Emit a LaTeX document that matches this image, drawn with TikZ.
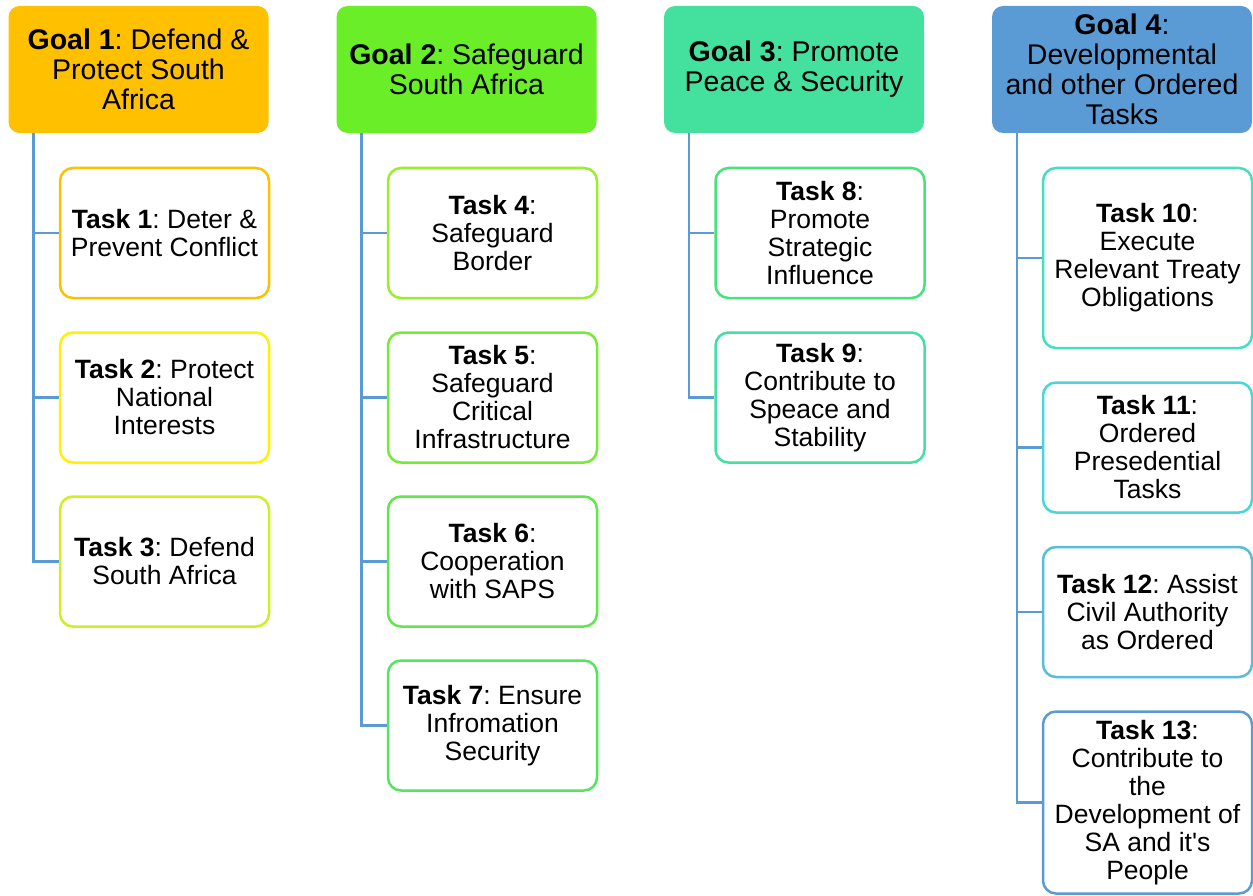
\documentclass[tikz,border=0pt]{standalone}
\usepackage{fontspec}
\setmainfont{Liberation Sans}
\frenchspacing
\begin{document}
\begin{tikzpicture}[x=1pt,y=-1pt,
  goalbox/.style={rectangle, rounded corners=11pt, minimum width=260pt, minimum height=127pt,
    inner sep=2pt, align=center, font=\fontsize{28.5}{30}\selectfont},
  taskbox/.style={rectangle, rounded corners=13pt, draw=#1, line width=2.5pt, fill=white,
    minimum width=209pt, minimum height=130pt, inner sep=2pt, align=center,
    font=\fontsize{26.5}{28}\selectfont},
  tallbox/.style={taskbox=#1, minimum height=180pt},
  link/.style={draw=linkblue, line width=2.6pt}
]
\definecolor{linkblue}{HTML}{5B9BD5}
\definecolor{gone}{HTML}{FFC000}
\definecolor{gtwo}{HTML}{6AEE27}
\definecolor{gthree}{HTML}{44E09E}
\definecolor{gfour}{HTML}{5B9BD5}
\definecolor{cA}{HTML}{FFC000}
\definecolor{cB}{HTML}{FFF200}
\definecolor{cC}{HTML}{CCF020}
\definecolor{cD}{HTML}{9BEE2A}
\definecolor{cE}{HTML}{72EC35}
\definecolor{cF}{HTML}{5EE84A}
\definecolor{cG}{HTML}{52E65C}
\definecolor{cH}{HTML}{46E27A}
\definecolor{cI}{HTML}{44E0A2}
\definecolor{cJ}{HTML}{46DEC3}
\definecolor{cK}{HTML}{4BD5D8}
\definecolor{cL}{HTML}{58BCDA}
\definecolor{cM}{HTML}{5B9BD5}

\useasboundingbox (0,0) rectangle (1253,896);

% goals
\node[goalbox, fill=gone]   (g1) at (138.5,69.5)  {\textbf{Goal 1}: Defend \&\\Protect South\\Africa};
\node[goalbox, fill=gtwo]   (g2) at (466.5,69.5)  {\textbf{Goal 2}: Safeguard\\South Africa};
\node[goalbox, fill=gthree] (g3) at (794,69.5)    {\textbf{Goal 3}: Promote\\Peace \& Security};
\node[goalbox, fill=gfour]  (g4) at (1122,69.5)   {\textbf{Goal 4}:\\Developmental\\and other Ordered\\Tasks};

% tasks of goal 1
\node[taskbox=cA] (t1) at (164.5,233) {\textbf{Task 1}: Deter \&\\Prevent Conflict};
\node[taskbox=cB] (t2) at (164.5,397.5) {\textbf{Task 2}: Protect\\National\\Interests};
\node[taskbox=cC] (t3) at (164.5,561.5) {\textbf{Task 3}: Defend\\South Africa};

% tasks of goal 2
\node[taskbox=cD] (t4) at (492.5,233) {\textbf{Task 4}:\\Safeguard\\Border};
\node[taskbox=cE] (t5) at (492.5,397.5) {\textbf{Task 5}:\\Safeguard\\Critical\\Infrastructure};
\node[taskbox=cF] (t6) at (492.5,561.5) {\textbf{Task 6}:\\Cooperation\\with SAPS};
\node[taskbox=cG] (t7) at (492.5,725.5) {\textbf{Task 7}: Ensure\\Infromation\\Security};

% tasks of goal 3
\node[taskbox=cH] (t8) at (820,233) {\textbf{Task 8}:\\Promote\\Strategic\\Influence};
\node[taskbox=cI] (t9) at (820,397.5) {\textbf{Task 9}:\\Contribute to\\Speace and\\Stability};

% tasks of goal 4
\node[tallbox=cJ] (t10) at (1147.5,258) {\textbf{Task 10}:\\Execute\\Relevant Treaty\\Obligations};
\node[taskbox=cK] (t11) at (1147.5,447.5) {\textbf{Task 11}:\\Ordered\\Presedential\\Tasks};
\node[taskbox=cL] (t12) at (1147.5,612) {\textbf{Task 12}: Assist\\Civil Authority\\as Ordered};
\node[tallbox=cM, minimum height=182pt] (t13) at (1147.5,802.5) {\textbf{Task 13}:\\Contribute to\\the\\Development of\\SA and it\textquotesingle s\\People};

% connectors
\foreach \g/\t in {g1/t1,g1/t2,g1/t3,g2/t4,g2/t5,g2/t6,g2/t7,g3/t8,g3/t9,g4/t10,g4/t11,g4/t12,g4/t13}
  \draw[link] ([xshift=25pt]\g.south west) |- (\t.west);
\end{tikzpicture}
\end{document}
